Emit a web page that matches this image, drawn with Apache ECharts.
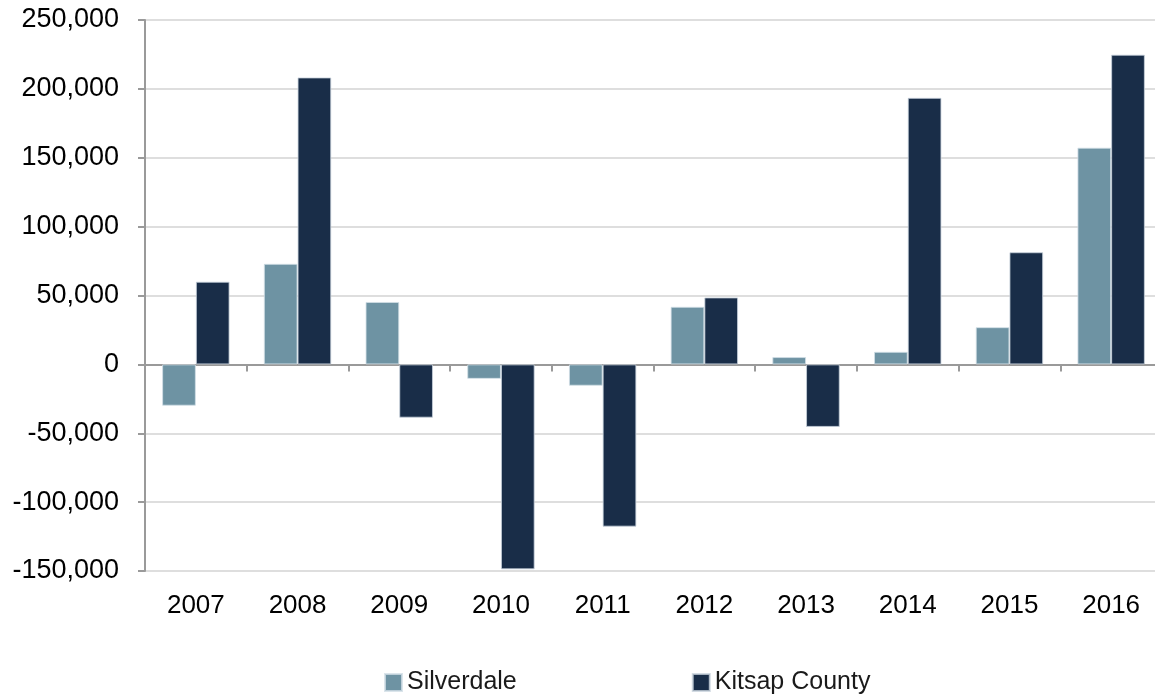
<!DOCTYPE html>
<html>
<head>
<meta charset="utf-8">
<script src="https://cdn.jsdelivr.net/npm/echarts@6/dist/echarts.min.js"></script>
<style>
  html, body { margin: 0; padding: 0; background: #ffffff; overflow: hidden; width: 1155px; height: 696px; }
  /* the plot runs a few pixels past the right edge of the page */
  #chart { width: 1162px; height: 696px; }
</style>
</head>
<body>
<div id="chart"></div>
<script>
// Annual change by year, Silverdale vs. Kitsap County
const years = ['2007', '2008', '2009', '2010', '2011', '2012', '2013', '2014', '2015', '2016'];
const silverdale = [-30000, 73000, 45300, -10500, -15500, 41800, 5300, 9100, 27000, 157300];
const kitsapCounty = [60000, 208300, -38700, -148800, -117800, 48600, -45400, 193500, 81400, 224800];

const yMin = -150000;
const yMax = 250000;
const yStep = 50000;

const fmt = v => (v < 0 ? '-' : '') + Math.abs(v).toLocaleString('en-US');

const chart = echarts.init(document.getElementById('chart'), null, { renderer: 'canvas' });

chart.setOption({
  animation: false,
  backgroundColor: '#ffffff',
  textStyle: { fontFamily: '"Liberation Sans", Arial, sans-serif' },
  grid: { left: 145, top: 20, right: 0, height: 551, containLabel: false },
  legend: {
    data: ['Silverdale', 'Kitsap County'],
    left: 384,
    top: 670,
    padding: 0,
    icon: 'rect',
    itemWidth: 17,
    itemHeight: 17,
    itemGap: 175,
    textStyle: { fontSize: 25, color: '#1a1a1a', fontFamily: '"Liberation Sans", Arial, sans-serif' }
  },
  xAxis: [
    {
      // zero baseline with tick marks between years
      type: 'category',
      data: years,
      position: 'bottom',
      axisLine: { onZero: true, lineStyle: { color: '#9a9a9a', width: 2 } },
      axisTick: { show: true, length: 7, lineStyle: { color: '#9a9a9a', width: 2 } },
      axisLabel: { show: false },
      splitLine: { show: false }
    },
    {
      // year labels along the bottom of the plot
      type: 'category',
      data: years,
      position: 'bottom',
      axisLine: { show: false, onZero: false },
      axisTick: { show: false },
      axisLabel: { show: true, margin: 22, fontSize: 26, color: '#000000' },
      splitLine: { show: false }
    }
  ],
  yAxis: {
    type: 'value',
    min: yMin,
    max: yMax,
    interval: yStep,
    axisLine: { show: true, lineStyle: { color: '#9a9a9a', width: 2 } },
    axisTick: { show: true, inside: false, length: 7, lineStyle: { color: '#9a9a9a', width: 2 } },
    axisLabel: { fontSize: 27, color: '#000000', margin: 26, formatter: fmt },
    splitLine: { show: true, lineStyle: { color: '#dedede', width: 2 } }
  },
  series: [
    {
      name: 'Silverdale',
      type: 'bar',
      xAxisIndex: 0,
      data: silverdale,
      barGap: '0%',
      barCategoryGap: '33.7%',
      itemStyle: { color: '#6e93a3', borderColor: 'rgba(210,222,230,0.8)', borderWidth: 1 }
    },
    {
      name: 'Kitsap County',
      type: 'bar',
      xAxisIndex: 0,
      data: kitsapCounty,
      barGap: '0%',
      barCategoryGap: '33.7%',
      itemStyle: { color: '#192d48', borderColor: 'rgba(200,210,220,0.8)', borderWidth: 1 }
    }
  ]
});
</script>
</body>
</html>
